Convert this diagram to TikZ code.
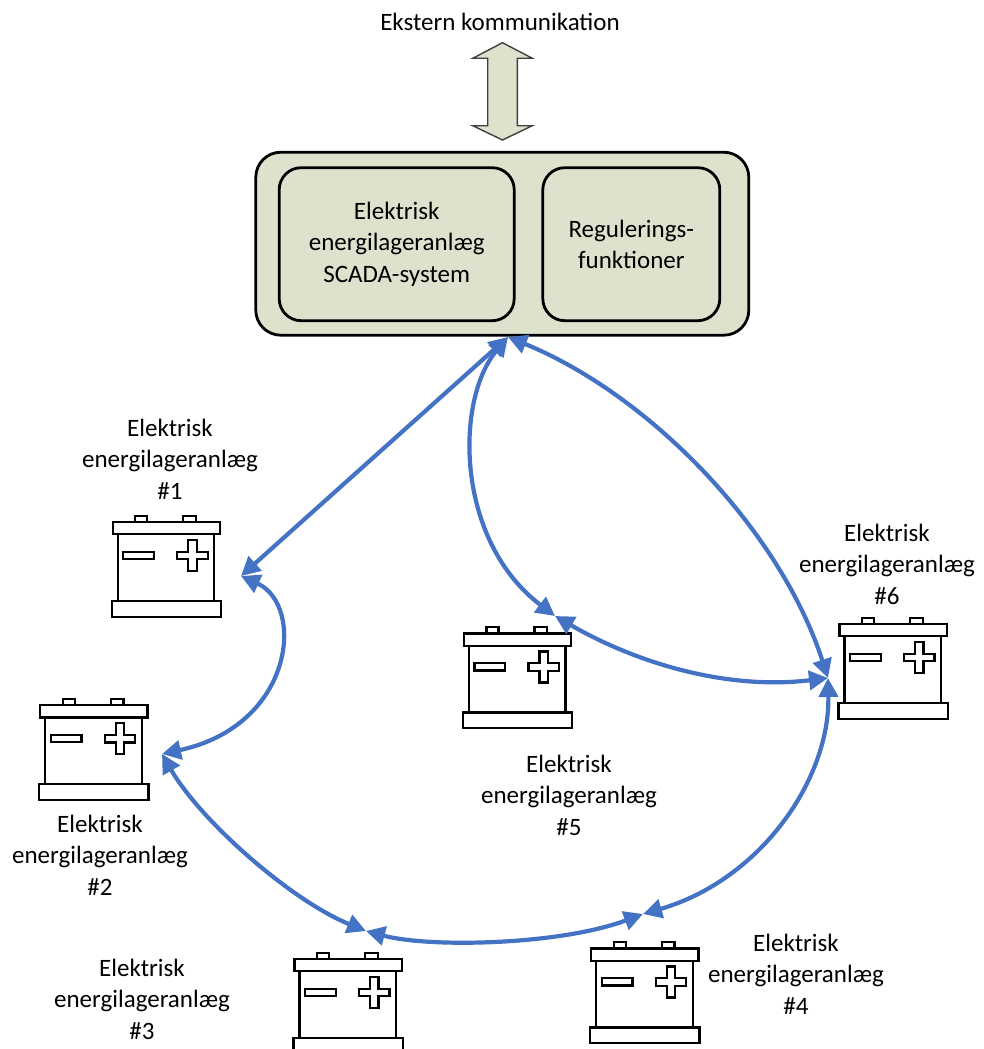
\documentclass[tikz,border=0pt]{standalone}
\usepackage{fontspec}
\setmainfont{Carlito}
\usetikzlibrary{arrows.meta}
\definecolor{boxfill}{RGB}{221,226,205}
\definecolor{linkblue}{RGB}{68,114,196}
\tikzset{
  txt/.style={font=\fontsize{25}{31.5}\selectfont, align=center, inner sep=0pt},
  outerbox/.style={draw=black, line width=2.8pt, fill=boxfill, rounded corners=25pt,
    minimum width=493pt, minimum height=183pt, inner sep=0pt},
  innerbox/.style={draw=black, line width=2.8pt, fill=boxfill, rounded corners=22pt,
    minimum height=153pt, inner sep=0pt, font=\fontsize{25}{31.5}\selectfont, align=center},
  conn/.style={draw=linkblue, line width=4.2pt,
    {Triangle[length=19pt,width=19pt]}-{Triangle[length=19pt,width=19pt]}},
  battery/.pic={
    \begin{scope}[draw=black, line width=2.3pt, fill=white]
      \filldraw (-31,0) rectangle (-19,6.3);
      \filldraw (17,0) rectangle (29.7,6.3);
      \filldraw (-48.6,18.6) rectangle (48,85.3);
      \filldraw (-53.6,6.3) rectangle (53.7,18.6);
      \filldraw (-54.6,85.3) rectangle (54.7,101);
      \filldraw (-43,36) rectangle (-12.3,43.3);
      \filldraw (22,24.3) -- (30.4,24.3) -- (30.4,36) -- (41.4,36) -- (41.4,43.6)
        -- (30.4,43.6) -- (30.4,55.3) -- (22,55.3) -- (22,43.6) -- (11,43.6)
        -- (11,36) -- (22,36) -- cycle;
    \end{scope}
  }
}
\begin{document}
\begin{tikzpicture}[x=1pt, y=-1pt]
\useasboundingbox (0,0) rectangle (983,1049);
\clip (0,0) rectangle (983,1049);

% top label and block arrow
\node[txt] (ext) at (500,22) {Ekstern kommunikation};
\filldraw[fill=boxfill, draw=black!75, line width=1.4pt]
  (502.5,42.7) -- (532.3,58.3) -- (517.3,58.3) -- (517.3,125.7) -- (532.3,125.7)
  -- (502.5,140) -- (472.7,125.7) -- (487.7,125.7) -- (487.7,58.3) -- (472.7,58.3) -- cycle;

% SCADA box
\node[outerbox] (outer) at (502.3,243.7) {};
\node[innerbox, minimum width=235pt] (scada) at (396.7,244.2)
  {Elektrisk\\energilageranlæg\\SCADA-system};
\node[innerbox, minimum width=177pt] (reg) at (631.3,244.2)
  {Regulerings-\\funktioner};

% batteries
\pic (b1) at (166.3,515.7) {battery};
\pic (b2) at (93.7,699) {battery};
\pic (b3) at (348,952.7) {battery};
\pic (b4) at (644.7,942.3) {battery};
\pic (b5) at (517.5,627.3) {battery};
\pic (b6) at (893,617.7) {battery};

% labels
\node[txt] (l1) at (170,459) {Elektrisk\\energilageranlæg\\\#1};
\node[txt] (l2) at (100,855) {Elektrisk\\energilageranlæg\\\#2};
\node[txt] (l3) at (142,999) {Elektrisk\\energilageranlæg\\\#3};
\node[txt] (l4) at (796,974) {Elektrisk\\energilageranlæg\\\#4};
\node[txt] (l5) at (569,795) {Elektrisk\\energilageranlæg\\\#5};
\node[txt] (l6) at (887,564) {Elektrisk\\energilageranlæg\\\#6};

% hubs
\coordinate (h0) at (508,337);
\coordinate (h1) at (241,576);
\coordinate (h2) at (162,754);
\coordinate (h3) at (366,931);
\coordinate (h4) at (643,914);
\coordinate (h5) at (555,616);
\coordinate (h6) at (828,678);

% connectors
\draw[conn] (h0) -- (h1);
\draw[conn] (h0) .. controls (455,400) and (455,540) .. (h5);
\draw[conn] (h0) .. controls (650,395) and (780,530) .. (h6);
\draw[conn] (h5) .. controls (640,665) and (730,690) .. (h6);
\draw[conn] (h1) .. controls (305,605) and (295,725) .. (h2);
\draw[conn] (h2) .. controls (200,820) and (290,900) .. (h3);
\draw[conn] (h3) .. controls (430,948) and (560,945) .. (h4);
\draw[conn] (h4) .. controls (760,880) and (830,780) .. (h6);
\end{tikzpicture}
\end{document}
